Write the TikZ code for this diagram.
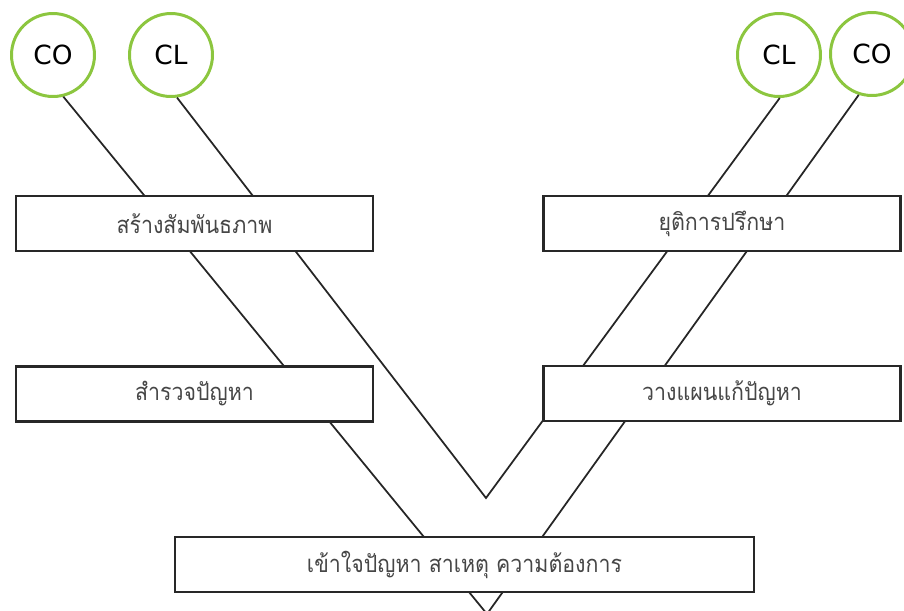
\documentclass[tikz,border=0pt]{standalone}
\usepackage{fontspec}
\newfontfamily\thaifont[Script=Thai,FakeStretch=0.9]{Loma}
\newfontfamily\labelfont{DejaVu Sans}
\definecolor{ringgreen}{RGB}{140,198,63}
\definecolor{boxline}{RGB}{40,40,40}
\definecolor{thaitext}{RGB}{70,70,70}
\begin{document}
\begin{tikzpicture}[x=0.02cm,y=-0.02cm,
  role/.style={circle, draw=ringgreen, line width=1.7pt, minimum size=1.66cm,
    inner sep=0pt, font=\labelfont\fontsize{15}{17}\selectfont, text=black},
  stagebox/.style={draw=boxline, fill=white, line width=1.2pt, minimum width=7.14cm,
    minimum height=1.1cm, inner sep=0pt, font=\thaifont\fontsize{13.5}{16}\selectfont, text=thaitext},
  widebox/.style={stagebox, minimum width=11.58cm},
  link/.style={draw=black!85, line width=1pt}]
\useasboundingbox (0,0) rectangle (904,610);
\clip (0,0) rectangle (904,610);

% roles at the top
\node[role] (co1) at (53,55) {CO};
\node[role] (cl1) at (171,55) {CL};
\node[role] (cl2) at (779,55) {CL};
\node[role] (co2) at (872,54) {CO};

% meeting points of the two V paths
\coordinate (innertip) at (486,498);
\coordinate (outertip) at (487,614);

% connectors behind the stage boxes
\draw[link] (co1.-76) -- (outertip) -- (co2.-108);
\draw[link] (cl1.-82) -- (innertip) -- (cl2.-89);

% stages
\node[stagebox] (rapport) at (194.5,223.5) {สร้างสัมพันธภาพ};
\node[stagebox] (closing) at (722,223.5) {ยุติการปรึกษา};
\node[stagebox] (explore) at (194.5,394) {สำรวจปัญหา};
\node[stagebox] (plan) at (722,393.5) {วางแผนแก้ปัญหา};
\node[widebox] (understand) at (464.5,564.5) {เข้าใจปัญหา สาเหตุ ความต้องการ};
\end{tikzpicture}
\end{document}
